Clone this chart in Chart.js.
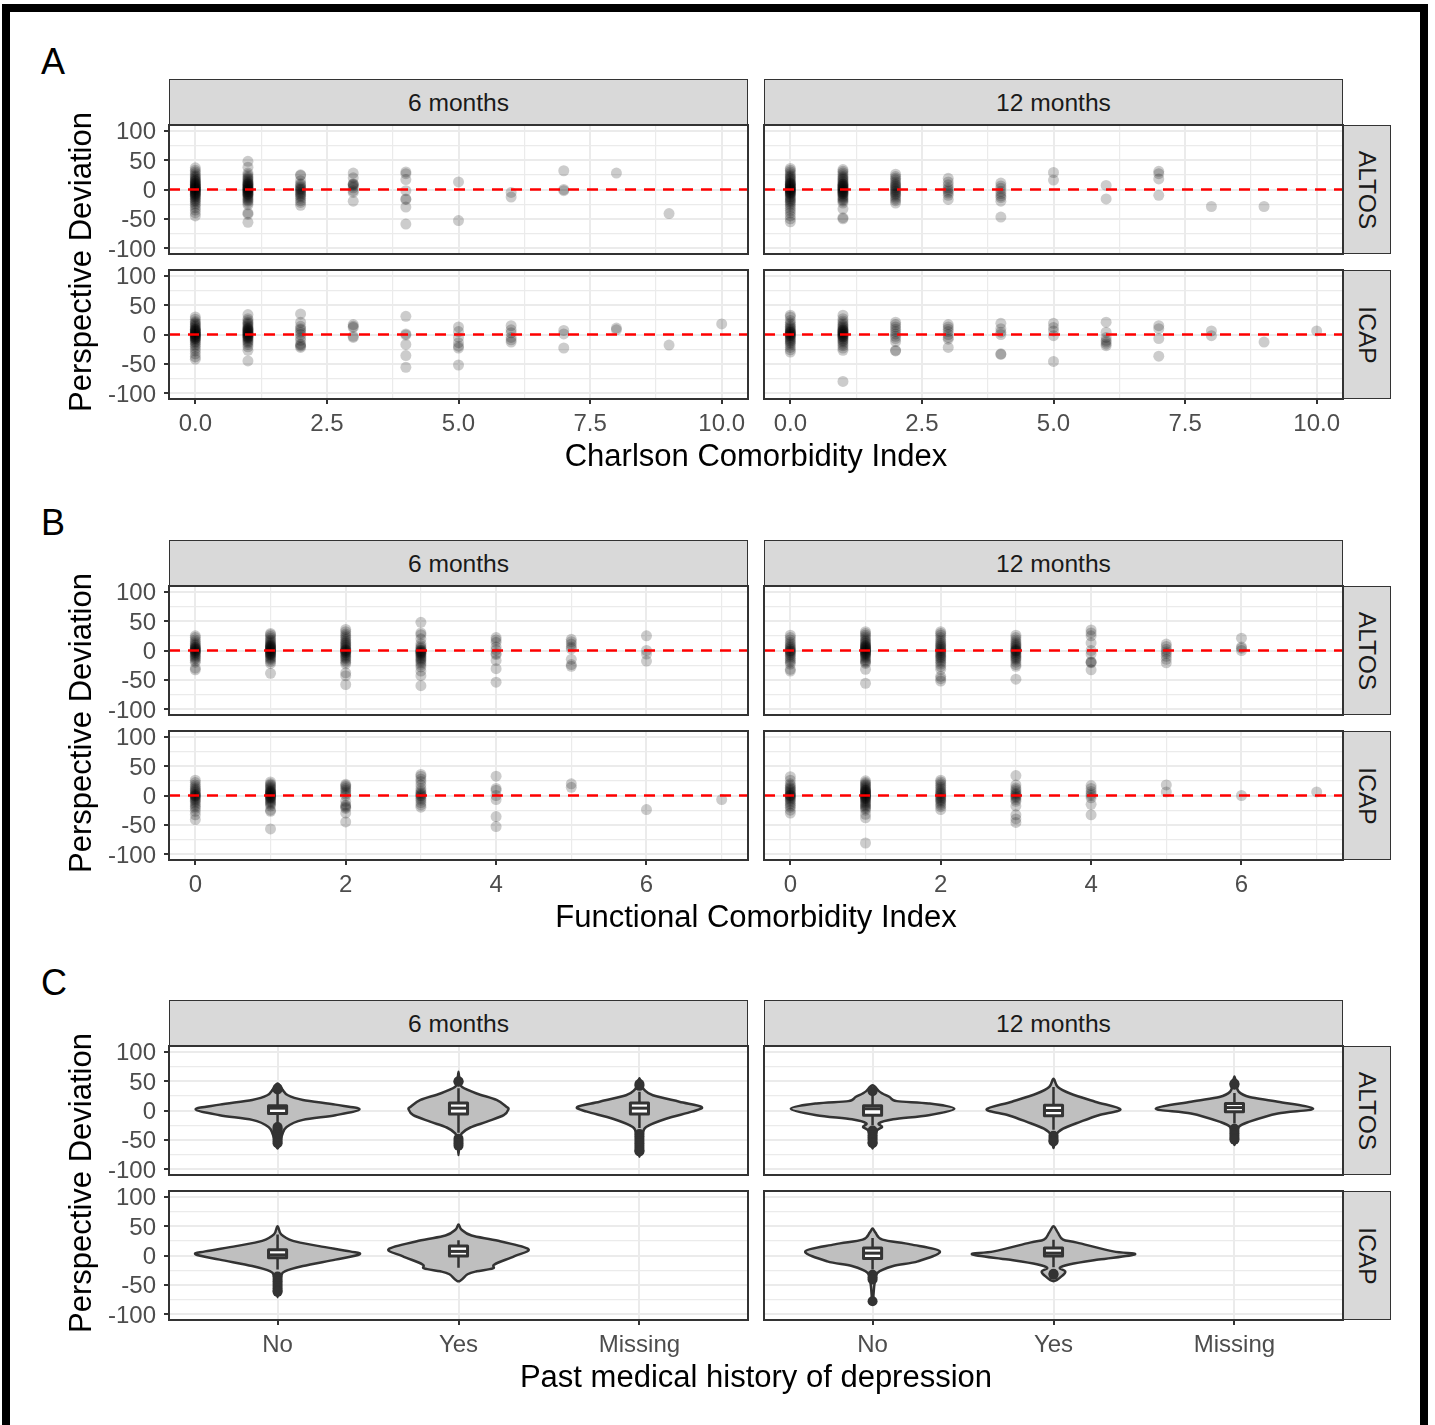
<!DOCTYPE html>
<html lang="en">
<head>
<meta charset="UTF-8">
<title>Perspective Deviation by comorbidity</title>
<script src="https://cdn.jsdelivr.net/npm/chart.js"></script>
<style>
  html, body { margin: 0; padding: 0; background: #fff; }
  body { position: relative; width: 1435px; height: 1425px; overflow: hidden;
         font-family: "Liberation Sans", Arial, Helvetica, sans-serif; }
  .abs { position: absolute; }
  .frame { left: 2px; top: 4px; width: 1426px; height: 1440px;
           border: 8px solid #000; box-sizing: border-box; }
  .tag { font-size: 36px; line-height: 1; color: #000; }
  .strip { background: #d9d9d9; border: 1px solid #333; box-sizing: border-box;
           display: flex; align-items: center; justify-content: center;
           font-size: 24.6px; color: #1a1a1a; white-space: nowrap; }
  .strip .rot { transform: rotate(90deg); }
  .xtitle { font-size: 31px; line-height: 1; text-align: center; color: #000; }
  .ytitle { font-size: 31px; line-height: 40px; height: 40px; width: 420px;
            text-align: center; color: #000; transform: rotate(-90deg); white-space: nowrap; }
</style>
</head>
<body>
<div class="abs frame"></div>
<script>
Chart.defaults.font.family = '"Liberation Sans", Arial, Helvetica, sans-serif';

// ---------- shared scales ----------
const yTicks = [-100, -50, 0, 50, 100];
const yMin = -110, yMax = 110;
const refLine = 0;
const timepoints = ['6 months', '12 months'];
const cohorts = ['ALTOS', 'ICAP'];

// ---------- A: Charlson Comorbidity Index ----------
// each row: [x, y, y, y, ...]
const cciTicks = [0, 2.5, 5, 7.5, 10];
const cciAltos6 = [
  [0, 37, 33, 30, 27, 24, 22, 20, 18, 16, 15, 14, 12, 11, 10, 9, 8, 7, 6, 5, 4, 3, 3, 2, 1, 0, 0, -1, -2, -3, -4, -5, -6, -7, -8, -9, -10, -12, -13, -15, -17, -19, -21, -24, -27, -31, -35, -40, -45],
  [1, 48, 38, 28, 25, 22, 20, 18, 16, 14, 12, 11, 10, 9, 8, 7, 6, 5, 4, 3, 2, 1, 0, 0, -1, -2, -3, -4, -5, -6, -7, -8, -9, -10, -12, -14, -16, -18, -20, -23, -26, -40, -42, -56],
  [2, 25, 24, 15, 10, 8, 5, 3, 1, 0, -2, -4, -6, -8, -10, -12, -15, -19, -22, -27],
  [3, 28, 20, 10, 9, 8, 6, 3, -2, -5, -20],
  [4, 30, 27, 17, -2, -16, -17, -30, -59],
  [5, 13, -53],
  [6, -5, -13],
  [7, 32, 0, -2],
  [8, 28],
  [9, -41]
];
const cciIcap6 = [
  [0, 30, 26, 22, 20, 18, 16, 14, 12, 10, 9, 8, 7, 6, 5, 4, 3, 2, 1, 0, 0, -1, -2, -3, -4, -5, -6, -7, -8, -10, -12, -14, -17, -20, -24, -28, -33, -38, -42],
  [1, 34, 27, 24, 21, 19, 17, 15, 13, 11, 10, 9, 8, 7, 6, 5, 4, 3, 2, 1, 0, -1, -2, -3, -4, -5, -6, -8, -10, -12, -14, -17, -21, -27, -45],
  [2, 35, 21, 14, 10, 8, 4, 0, -5, -10, -16, -18, -20, -22],
  [3, 17, 14, 12, -3, -5],
  [4, 31, 1, -1, -17, -36, -56],
  [5, 13, 5, -5, -14, -20, -23, -52],
  [6, 15, 8, 3, -5, -9, -13],
  [7, 7, 1, -23],
  [8, 11, 8],
  [9, -18],
  [10, 18]
];
const cciAltos12 = [
  [0, 36, 33, 30, 27, 24, 22, 20, 18, 16, 14, 12, 11, 10, 9, 8, 7, 6, 5, 4, 3, 2, 1, 0, 0, -1, -2, -3, -4, -5, -6, -7, -8, -10, -12, -14, -16, -18, -20, -22, -25, -28, -32, -36, -40, -45, -50, -55],
  [1, 34, 31, 28, 25, 22, 20, 18, 16, 14, 12, 10, 9, 8, 7, 6, 5, 4, 3, 2, 1, 0, -1, -2, -3, -4, -5, -6, -7, -8, -10, -12, -14, -16, -18, -20, -23, -33, -48, -50],
  [2, 26, 22, 19, 16, 13, 10, 8, 6, 4, 2, 0, -2, -4, -6, -8, -10, -13, -16, -19, -23],
  [3, 19, 13, 8, 3, 0, -3, -6, -10, -17],
  [4, 11, 6, 2, -3, -7, -11, -14, -20, -47],
  [5, 29, 16],
  [6, 7, -16],
  [7, 31, 27, 18, -10],
  [8, -29],
  [9, -29]
];
const cciIcap12 = [
  [0, 33, 30, 24, 20, 17, 14, 12, 10, 8, 6, 5, 4, 3, 2, 1, 0, -1, -2, -3, -5, -7, -9, -11, -13, -15, -18, -22, -26, -30],
  [1, 33, 27, 23, 20, 17, 15, 13, 11, 9, 8, 7, 6, 5, 4, 3, 2, 1, 0, -1, -2, -3, -4, -5, -7, -9, -11, -13, -16, -19, -23, -27, -80],
  [2, 21, 17, 13, 9, 5, 1, -3, -7, -12, -27, -28],
  [3, 17, 13, 9, 5, 0, -5, -8, -22],
  [4, 19, 10, 4, 0, -33, -34],
  [5, 19, 12, 6, -2, -46],
  [6, 21, 4, -5, -10, -13, -16, -19],
  [7, 15, 10, -7, -37],
  [8, 6, -2],
  [9, -13],
  [10, 6]
];

// ---------- B: Functional Comorbidity Index ----------
const fciTicks = [0, 2, 4, 6];
const fciAltos6 = [
  [0, 25, 22, 18, 15, 12, 10, 8, 6, 5, 4, 3, 2, 1, 0, -1, -2, -3, -4, -6, -8, -10, -12, -14, -17, -20, -30, -33],
  [1, 29, 27, 24, 21, 18, 16, 14, 12, 10, 9, 8, 7, 6, 5, 4, 3, 2, 1, 0, -1, -2, -3, -4, -5, -6, -7, -8, -10, -12, -14, -16, -19, -22, -39],
  [2, 36, 32, 28, 25, 22, 19, 16, 14, 12, 10, 8, 6, 4, 2, 1, 0, -1, -2, -3, -4, -6, -8, -10, -12, -14, -17, -20, -23, -38, -43, -58],
  [3, 48, 30, 27, 20, 12, 8, 5, 3, 1, 0, -1, -2, -3, -4, -5, -6, -8, -10, -12, -14, -16, -18, -21, -24, -28, -35, -43, -60],
  [4, 22, 18, 14, 6, 1, -5, -7, -17, -31, -54],
  [5, 19, 15, 11, 6, 3, -15, -24, -27],
  [6, 25, 0, -6, -18]
];
const fciIcap6 = [
  [0, 26, 22, 18, 15, 12, 10, 8, 6, 4, 2, 1, 0, -1, -2, -4, -6, -8, -10, -13, -16, -19, -22, -27, -33, -41],
  [1, 23, 20, 18, 16, 14, 12, 10, 8, 7, 6, 5, 4, 3, 2, 1, 0, -1, -2, -3, -4, -5, -7, -9, -11, -13, -15, -18, -25, -27, -57],
  [2, 19, 17, 15, 12, 9, 6, 3, 0, -10, -16, -18, -20, -22, -30, -45],
  [3, 36, 33, 28, 24, 18, 12, 8, 5, 3, 1, 0, -2, -5, -8, -12, -16, -20],
  [4, 33, 12, 9, 0, -7, -36, -53],
  [5, 20, 14],
  [6, -24],
  [7, -7]
];
const fciAltos12 = [
  [0, 26, 22, 18, 14, 11, 8, 6, 4, 2, 0, -1, -2, -4, -6, -8, -11, -14, -17, -20, -23, -32, -35],
  [1, 32, 29, 26, 23, 20, 17, 15, 13, 11, 9, 8, 7, 6, 5, 4, 3, 2, 1, 0, -1, -2, -3, -4, -5, -6, -7, -9, -11, -13, -16, -18, -20, -22, -32, -56],
  [2, 32, 29, 26, 22, 18, 15, 12, 10, 8, 6, 4, 2, 0, -2, -4, -6, -8, -10, -12, -14, -17, -20, -23, -27, -32, -44, -48, -52],
  [3, 26, 22, 18, 15, 12, 10, 8, 6, 4, 2, 1, 0, -1, -2, -4, -6, -8, -10, -12, -14, -16, -20, -24, -27, -49],
  [4, 35, 30, 25, 13, 0, -6, -19, -20, -21, -33],
  [5, 11, 7, 2, -2, -5, -10, -15, -21],
  [6, 21, 6, 4, 0]
];
const fciIcap12 = [
  [0, 32, 26, 20, 17, 14, 12, 10, 8, 6, 4, 2, 1, 0, -1, -2, -4, -6, -8, -11, -14, -17, -20, -25, -30],
  [1, 25, 22, 20, 18, 16, 14, 12, 10, 9, 8, 7, 6, 5, 4, 3, 2, 1, 0, -1, -2, -3, -4, -5, -6, -8, -10, -12, -14, -16, -18, -20, -22, -25, -32, -38, -81],
  [2, 26, 23, 20, 17, 14, 11, 8, 6, 4, 2, 0, -2, -4, -6, -8, -10, -13, -16, -19, -24],
  [3, 34, 18, 13, 10, 7, 4, 2, 0, -2, -4, -7, -10, -18, -33, -40, -46],
  [4, 17, 12, 7, 3, 0, -4, -15, -33],
  [5, 18, 6],
  [6, 0],
  [7, 6]
];

// ---------- C: Past medical history of depression ----------
const depCategories = ['No', 'Yes', 'Missing'];
// violin outlines: [deviation, half width in category units], top to bottom
const vAltos6No = [[46, 0], [36, 0.026], [26, 0.057], [18, 0.14], [10, 0.32], [2, 0.453], [-8, 0.32], [-16, 0.14], [-28, 0.05], [-42, 0.025], [-65, 0]];
const vAltos6Yes = [[66, 0], [50, 0.006], [40, 0.02], [29, 0.1], [18, 0.21], [6, 0.267], [2, 0.276], [-8, 0.25], [-19, 0.157], [-29, 0.065], [-39, 0.018], [-50, 0.006], [-76, 0]];
const vAltos6Missing = [[55, 0], [45, 0.01], [35, 0.028], [26, 0.074], [15, 0.22], [6, 0.344], [-2, 0.29], [-14, 0.147], [-28, 0.037], [-42, 0.018], [-60, 0.01], [-79, 0]];
const vAltos12No = [[43, 0], [33, 0.035], [29, 0.055], [23, 0.094], [16, 0.134], [12, 0.31], [3, 0.452], [-8, 0.31], [-15, 0.114], [-22, 0.035], [-28, 0.053], [-34, 0.024], [-45, 0.015], [-65, 0]];
const vAltos12Yes = [[54, 0], [40, 0.024], [29, 0.092], [15, 0.23], [2, 0.37], [-8, 0.25], [-19, 0.15], [-31, 0.053], [-42, 0.014], [-64, 0]];
const vAltos12Missing = [[58, 0], [45, 0.01], [32, 0.024], [23, 0.083], [15, 0.24], [3, 0.435], [-5, 0.24], [-19, 0.083], [-28, 0.024], [-45, 0.01], [-59, 0]];
const vIcap6No = [[50, 0], [36, 0.02], [25, 0.085], [16, 0.23], [7, 0.4], [2, 0.453], [-7, 0.32], [-18, 0.14], [-27, 0.04], [-35, 0.02], [-50, 0.012], [-71, 0]];
const vIcap6Yes = [[53, 0], [44, 0.017], [34, 0.072], [25, 0.22], [11, 0.386], [-1, 0.31], [-15, 0.2], [-22, 0.19], [-27, 0.1], [-32, 0.05], [-44, 0]];
const vIcap12No = [[46, 0], [39, 0.016], [27, 0.055], [19, 0.21], [7, 0.372], [-10, 0.25], [-18, 0.114], [-30, 0.026], [-50, 0.01], [-82, 0]];
const vIcap12Yes = [[50, 0], [39, 0.024], [27, 0.053], [22, 0.13], [7, 0.33], [2, 0.45], [-7, 0.25], [-15, 0.092], [-21, 0.035], [-27, 0.065], [-34, 0.05], [-44, 0]];
// box stats: [lower whisker, Q1, median, Q3, upper whisker]
const boxAltos6 = [[-25, -5, 4, 8, 29], [-38, -6, 4, 13, 38], [-30, -6, 4, 13, 32]];
const boxAltos12 = [[-25, -8, 3, 8, 28], [-33, -9, 0, 9, 40], [-22, -2, 5, 12, 30]];
const boxIcap6 = [[-24, -4, 1, 10, 36], [-21, -1, 7, 16, 26]];
const boxIcap12 = [[-24, -5, 4, 13, 30], [-20, -1, 4, 13, 27]];
// outlier points per category
const outAltos6 = [[36, 38, -28, -31, -34, -37, -41, -45, -49, -53, -56], [50, 49, -48, -52, -56, -60], [42, 45, -40, -44, -48, -52, -56, -60, -64, -68, -70]];
const outAltos12 = [[33, -34, -38, -42, -46, -50, -54, -56], [-43, -47, -51, -53], [44, 46, -31, -35, -39, -43, -47, -50]];
const outIcap6 = [[-36, -40, -44, -48, -52, -56, -60, -62], []];
const outIcap12 = [[-33, -37, -41, -78], [-31, -33]];

const depAltos6 = { violins: [vAltos6No, vAltos6Yes, vAltos6Missing], boxes: boxAltos6, outliers: outAltos6 };
const depAltos12 = { violins: [vAltos12No, vAltos12Yes, vAltos12Missing], boxes: boxAltos12, outliers: outAltos12 };
const depIcap6 = { violins: [vIcap6No, vIcap6Yes], boxes: boxIcap6, outliers: outIcap6 };
const depIcap12 = { violins: [vIcap12No, vIcap12Yes], boxes: boxIcap12, outliers: outIcap12 };

// ---------- layout ----------
const COL_X = [169, 764];
const PANEL_W = 579, PANEL_H = 129, STRIP_H = 46, ROW_GAP = 16;
const SECTION_TOP = [79, 540, 1000];
const AXIS_W = 70, AXIS_H = 45, PAD = 12, PAD_V = 26;
const RIGHT_STRIP_W = 48;
const BOX_W = 0.1;

const sections = [
  { tag: 'A', title: 'Charlson Comorbidity Index', xTicks: cciTicks, fmt: v => v.toFixed(1),
    panels: [[cciAltos6, cciAltos12], [cciIcap6, cciIcap12]] },
  { tag: 'B', title: 'Functional Comorbidity Index', xTicks: fciTicks, fmt: v => String(v),
    panels: [[fciAltos6, fciAltos12], [fciIcap6, fciIcap12]] },
  { tag: 'C', title: 'Past medical history of depression', categories: depCategories,
    panels: [[depAltos6, depAltos12], [depIcap6, depIcap12]] }
];

function addDiv(cls, text, css) {
  const d = document.createElement('div');
  d.className = 'abs ' + cls;
  if (text) d.textContent = text;
  Object.assign(d.style, css);
  document.body.appendChild(d);
  return d;
}

// major breaks plus the half-way minor breaks inside [lo, hi]
function withMinor(majors, lo, hi) {
  const step = majors[1] - majors[0];
  const vals = new Set(majors);
  majors.forEach(m => { vals.add(m - step / 2); vals.add(m + step / 2); });
  return [...vals].filter(v => v >= lo && v <= hi).sort((a, b) => a - b);
}

function smoothClosed(ctx, pts) {
  const n = pts.length;
  ctx.moveTo(pts[0].x, pts[0].y);
  for (let i = 0; i < n; i++) {
    const p0 = pts[(i - 1 + n) % n], p1 = pts[i], p2 = pts[(i + 1) % n], p3 = pts[(i + 2) % n];
    ctx.bezierCurveTo(p1.x + (p2.x - p0.x) / 6, p1.y + (p2.y - p0.y) / 6,
                      p2.x - (p3.x - p1.x) / 6, p2.y - (p3.y - p1.y) / 6, p2.x, p2.y);
  }
  ctx.closePath();
}

const panelBorder = {
  id: 'panelBorder',
  afterDraw(chart) {
    const { ctx, chartArea: a } = chart;
    ctx.save();
    ctx.strokeStyle = '#333333';
    ctx.lineWidth = 2;
    ctx.strokeRect(a.left, a.top, a.width, a.height);
    ctx.restore();
  }
};

const zeroLine = {
  id: 'zeroLine',
  afterDatasetsDraw(chart) {
    const { ctx, chartArea: a } = chart;
    const py = chart.scales.y.getPixelForValue(refLine);
    ctx.save();
    ctx.strokeStyle = '#ff0000';
    ctx.lineWidth = 2.5;
    ctx.setLineDash([11, 8]);
    ctx.beginPath();
    ctx.moveTo(a.left, py);
    ctx.lineTo(a.right, py);
    ctx.stroke();
    ctx.restore();
  }
};

function violinLayer(panel) {
  return {
    id: 'violins',
    beforeDatasetsDraw(chart) {
      const { ctx } = chart;
      const { x, y } = chart.scales;
      panel.violins.forEach((prof, i) => {
        const c = i + 1;
        const cx = x.getPixelForValue(c);
        const right = prof.map(([v, hw]) => ({ x: x.getPixelForValue(c + hw), y: y.getPixelForValue(v) }));
        const left = prof.slice(1, -1).reverse().map(([v, hw]) => ({ x: x.getPixelForValue(c - hw), y: y.getPixelForValue(v) }));
        ctx.save();
        ctx.beginPath();
        smoothClosed(ctx, right.concat(left));
        ctx.fillStyle = '#bfbfbf';
        ctx.fill();
        ctx.strokeStyle = '#333333';
        ctx.lineWidth = 2.5;
        ctx.lineJoin = 'round';
        ctx.stroke();

        const [lo, q1, med, q3, hi] = panel.boxes[i];
        const bw = x.getPixelForValue(c + BOX_W / 2) - cx;
        ctx.beginPath();
        ctx.moveTo(cx, y.getPixelForValue(hi));
        ctx.lineTo(cx, y.getPixelForValue(q3));
        ctx.moveTo(cx, y.getPixelForValue(q1));
        ctx.lineTo(cx, y.getPixelForValue(lo));
        ctx.stroke();
        const t = y.getPixelForValue(q3), b = y.getPixelForValue(q1);
        ctx.fillStyle = '#ffffff';
        ctx.fillRect(cx - bw, t, 2 * bw, b - t);
        ctx.lineWidth = 3;
        ctx.strokeRect(cx - bw, t, 2 * bw, b - t);
        ctx.beginPath();
        ctx.moveTo(cx - bw, y.getPixelForValue(med));
        ctx.lineTo(cx + bw, y.getPixelForValue(med));
        ctx.stroke();
        ctx.restore();
      });
    }
  };
}

function makeChart(sec, si, row, col) {
  const top = SECTION_TOP[si] + STRIP_H + row * (PANEL_H + ROW_GAP);
  const left = COL_X[col];
  const bottomRow = row === 1;
  const leftCol = col === 0;
  const panel = sec.panels[row][col];

  const cv = document.createElement('canvas');
  cv.width = AXIS_W + PANEL_W + PAD;
  cv.height = PAD_V + PANEL_H + (bottomRow ? AXIS_H : PAD_V);
  cv.className = 'abs';
  cv.style.left = (left - AXIS_W) + 'px';
  cv.style.top = (top - PAD_V) + 'px';
  document.body.appendChild(cv);

  let xMin, xMax, xTickVals, isMajorX, xLabel, datasets, plugins;
  if (sec.categories) {
    xMin = 0.4; xMax = sec.categories.length + 0.6;
    xTickVals = sec.categories.map((_, i) => i + 1);
    isMajorX = () => true;
    xLabel = v => sec.categories[v - 1];
    datasets = [{
      data: panel.outliers.flatMap((ys, i) => ys.map(v => ({ x: i + 1, y: v }))),
      backgroundColor: '#333333', borderWidth: 0, pointRadius: 5, pointHoverRadius: 5
    }];
    plugins = [violinLayer(panel), panelBorder];
  } else {
    const xs = sec.panels.flat().flat().map(r => r[0]);
    const lo = Math.min(...xs), hi = Math.max(...xs);
    const pad = (hi - lo) * 0.05;
    xMin = lo - pad; xMax = hi + pad;
    xTickVals = withMinor(sec.xTicks, xMin, xMax);
    isMajorX = v => sec.xTicks.includes(v);
    xLabel = v => (isMajorX(v) ? sec.fmt(v) : '');
    datasets = [{
      data: panel.flatMap(r => r.slice(1).map(v => ({ x: r[0], y: v }))),
      backgroundColor: 'rgba(0,0,0,0.2)', borderWidth: 0, pointRadius: 5.5, pointHoverRadius: 5.5
    }];
    plugins = [zeroLine, panelBorder];
  }
  const yTickVals = withMinor(yTicks, yMin, yMax);
  const isMajorY = v => yTicks.includes(v);

  new Chart(cv, {
    type: 'scatter',
    data: { datasets },
    plugins,
    options: {
      responsive: false,
      animation: false,
      events: [],
      layout: { padding: { top: PAD_V, right: PAD, left: 0, bottom: 0 } },
      plugins: { legend: { display: false }, tooltip: { enabled: false } },
      scales: {
        x: {
          type: 'linear', min: xMin, max: xMax,
          afterBuildTicks: ax => { ax.ticks = xTickVals.map(v => ({ value: v })); },
          afterFit: ax => { ax.height = bottomRow ? AXIS_H : PAD_V; },
          border: { display: false },
          grid: {
            color: '#ebebeb',
            lineWidth: c => (isMajorX(c.tick.value) ? 2 : 1.2),
            drawTicks: bottomRow, tickLength: 5, tickWidth: 2,
            tickColor: c => (isMajorX(c.tick.value) ? '#333333' : 'rgba(0,0,0,0)')
          },
          ticks: {
            display: bottomRow, autoSkip: false, maxRotation: 0, minRotation: 0,
            padding: 6, color: '#4d4d4d', font: { size: 24 },
            callback: v => xLabel(v)
          }
        },
        y: {
          type: 'linear', min: yMin, max: yMax,
          afterBuildTicks: ax => { ax.ticks = yTickVals.map(v => ({ value: v })); },
          afterFit: ax => { ax.width = AXIS_W; },
          border: { display: false },
          grid: {
            color: '#ebebeb',
            lineWidth: c => (isMajorY(c.tick.value) ? 2 : 1.2),
            drawTicks: leftCol, tickLength: 5, tickWidth: 2,
            tickColor: c => (isMajorY(c.tick.value) ? '#333333' : 'rgba(0,0,0,0)')
          },
          ticks: {
            display: leftCol, autoSkip: false, padding: 8, labelOffset: 2,
            color: '#4d4d4d', font: { size: 24 },
            callback: v => (isMajorY(v) ? String(v) : '')
          }
        }
      }
    }
  });
}

sections.forEach((sec, si) => {
  const st = SECTION_TOP[si];
  const panelTop = st + STRIP_H;
  const panelBottom = panelTop + 2 * PANEL_H + ROW_GAP;
  addDiv('tag', sec.tag, { left: '41px', top: (st - 35) + 'px' });

  // facet strips
  timepoints.forEach((tp, col) => {
    addDiv('strip', tp, { left: COL_X[col] + 'px', top: st + 'px', width: PANEL_W + 'px', height: (STRIP_H + 1) + 'px' });
  });
  cohorts.forEach((co, row) => {
    const s = addDiv('strip', '', {
      left: (COL_X[1] + PANEL_W) + 'px', top: (panelTop + row * (PANEL_H + ROW_GAP)) + 'px',
      width: RIGHT_STRIP_W + 'px', height: PANEL_H + 'px'
    });
    const sp = document.createElement('span');
    sp.className = 'rot';
    sp.textContent = co;
    s.appendChild(sp);
  });

  // panels
  for (let row = 0; row < 2; row++) {
    for (let col = 0; col < 2; col++) makeChart(sec, si, row, col);
  }

  // axis titles
  addDiv('xtitle', sec.title, {
    left: COL_X[0] + 'px', width: (COL_X[1] + PANEL_W - COL_X[0]) + 'px', top: (panelBottom + 41) + 'px'
  });
  addDiv('ytitle', 'Perspective Deviation', {
    left: (81 - 210) + 'px', top: ((panelTop + panelBottom) / 2 - 20) + 'px'
  });
});
</script>
</body>
</html>
